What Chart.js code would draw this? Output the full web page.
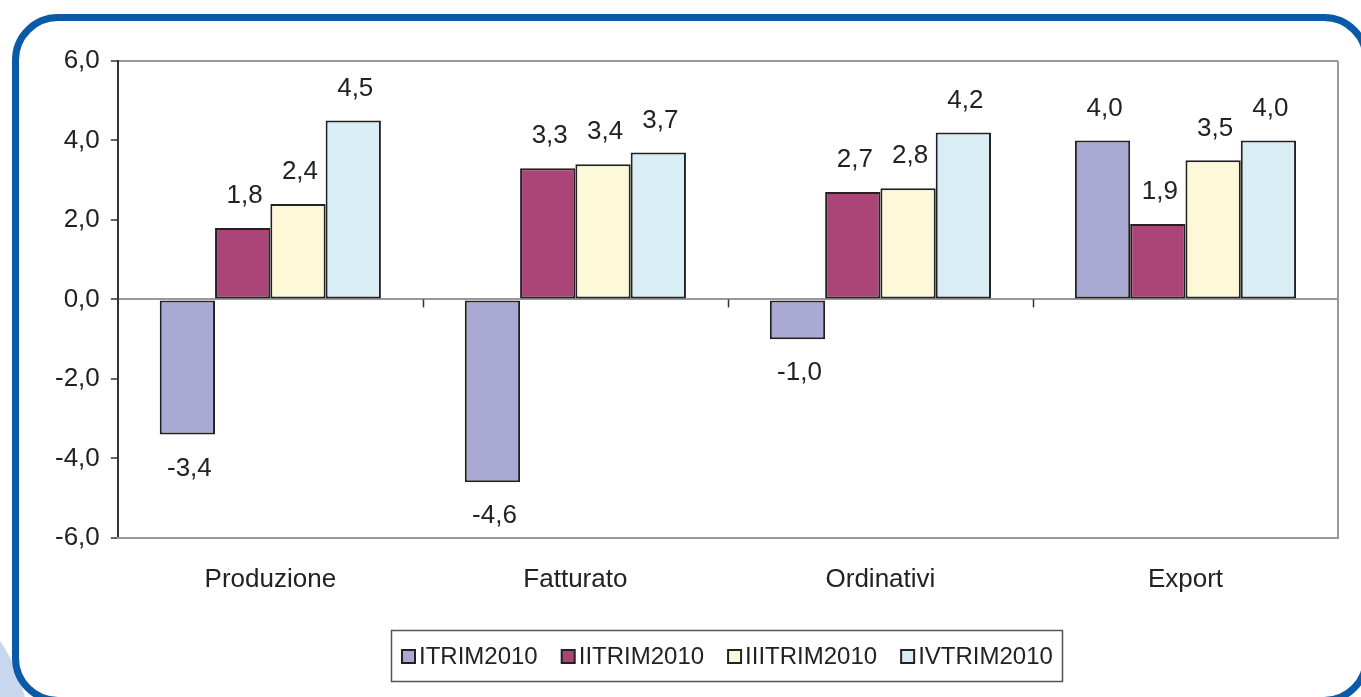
<!DOCTYPE html>
<html>
<head>
<meta charset="utf-8">
<script src="https://cdn.jsdelivr.net/npm/chart.js@4.4.1/dist/chart.umd.min.js"></script>
<style>
  html, body { margin: 0; padding: 0; background: #fff; overflow: hidden; }
  #blob { position: absolute; left: -330px; top: 560px; width: 360px; height: 360px; border-radius: 50%; background: #c9d7ee; }
  #frame { position: absolute; left: 12px; top: 14px; width: 1344px; height: 676px; border: 7px solid #0a5aa8; border-radius: 46px; background: #fff; }
  #wrap { position: absolute; left: 0; top: 0; width: 1361px; height: 697px; }
</style>
</head>
<body>
<div id="blob"></div>
<div id="frame"></div>
<div id="wrap"><canvas id="bar-chart"></canvas></div>
<script>
const categories = ["Produzione", "Fatturato", "Ordinativi", "Export"];
const seriesNames = ["ITRIM2010", "IITRIM2010", "IIITRIM2010", "IVTRIM2010"];
const trim1 = [-3.4, -4.6, -1.0, 4.0];
const trim2 = [1.8, 3.3, 2.7, 1.9];
const trim3 = [2.4, 3.4, 2.8, 3.5];
const trim4 = [4.5, 3.7, 4.2, 4.0];
const yTicks = [-6, -4, -2, 0, 2, 4, 6];
const colors = ["#aaa9d3", "#ac4577", "#fdf9d8", "#d8eef4"];

const FONT = "'Liberation Sans', Arial, sans-serif";
const fmt = v => v.toFixed(1).replace(".", ",");

// value labels, plot edge, zero-line ticks and a boxed legend
const extras = {
  id: "extras",
  afterDatasetsDraw(chart) {
    const ctx = chart.ctx;
    ctx.save();
    ctx.font = "26px " + FONT;
    ctx.fillStyle = "#222";
    ctx.textAlign = "center";
    ctx.textBaseline = "middle";
    chart.data.datasets.forEach((ds, i) => {
      chart.getDatasetMeta(i).data.forEach((bar, j) => {
        const v = ds.data[j];
        const y = v >= 0 ? bar.y - 32 : bar.y + 34;
        ctx.fillText(fmt(v), bar.x + 2, y);
      });
    });
    ctx.restore();
  },
  afterDraw(chart) {
    const ctx = chart.ctx;
    const a = chart.chartArea;
    const x = chart.scales.x;
    const y0 = chart.scales.y.getPixelForValue(0);
    ctx.save();
    ctx.strokeStyle = "#999";
    ctx.lineWidth = 2;
    ctx.beginPath();
    ctx.moveTo(a.right, a.top);
    ctx.lineTo(a.right, a.bottom);
    ctx.stroke();

    ctx.strokeStyle = "#333";
    ctx.lineWidth = 1.5;
    for (let i = 1; i < categories.length; i++) {
      const bx = Math.round((x.getPixelForValue(i - 1) + x.getPixelForValue(i)) / 2) + 0.5;
      ctx.beginPath();
      ctx.moveTo(bx, y0);
      ctx.lineTo(bx, y0 + 8);
      ctx.stroke();
    }

    // legend
    ctx.font = "24px " + FONT;
    ctx.textBaseline = "middle";
    const box = 13, gapText = 4, gapItem = 24;
    const widths = seriesNames.map(n => box + gapText + ctx.measureText(n).width);
    const total = widths.reduce((s, w) => s + w, 0) + gapItem * (widths.length - 1);
    const cy = 656;
    let lx = Math.round((a.left + a.right) / 2 - total / 2);
    ctx.strokeStyle = "#555";
    ctx.lineWidth = 1.5;
    ctx.strokeRect(lx - 11 + 0.5, cy - 26 + 0.5, Math.round(total + 20), 51);
    seriesNames.forEach((n, i) => {
      ctx.fillStyle = colors[i];
      ctx.fillRect(lx, cy - 6, box, box);
      ctx.strokeStyle = "#222";
      ctx.lineWidth = 2;
      ctx.strokeRect(lx, cy - 6, box, box);
      ctx.fillStyle = "#222";
      ctx.textAlign = "left";
      ctx.fillText(n, lx + box + gapText, cy + 1);
      lx += widths[i] + gapItem;
    });
    ctx.restore();
  }
};

new Chart(document.getElementById("bar-chart"), {
  type: "bar",
  data: {
    labels: categories,
    datasets: [trim1, trim2, trim3, trim4].map((d, i) => ({
      label: seriesNames[i],
      data: d,
      backgroundColor: colors[i],
      borderColor: "#222",
      borderWidth: 2,
      borderSkipped: false,
      categoryPercentage: 0.725,
      barPercentage: 1
    }))
  },
  options: {
    responsive: true,
    maintainAspectRatio: false,
    animation: false,
    layout: { padding: { left: 44, right: 23, top: 61, bottom: 84 } },
    scales: {
      y: {
        min: -6,
        max: 6,
        afterBuildTicks: s => { s.ticks = yTicks.map(v => ({ value: v })); },
        ticks: {
          callback: v => fmt(v),
          color: "#222",
          padding: 11,
          font: { family: FONT, size: 26 }
        },
        grid: {
          color: c => (c.tick && (c.tick.value === 0 || c.tick.value === 6)) ? "#999" : "rgba(0,0,0,0)",
          lineWidth: 2,
          tickColor: "#333",
          tickLength: 7,
          tickWidth: 1.5
        },
        border: { color: "#333", width: 2 }
      },
      x: {
        grid: { display: false },
        border: { color: "#999", width: 2 },
        ticks: {
          color: "#222",
          padding: 18,
          font: { family: FONT, size: 26 }
        }
      }
    },
    plugins: {
      legend: { display: false },
      tooltip: { enabled: false }
    }
  },
  plugins: [extras]
});
</script>
</body>
</html>
